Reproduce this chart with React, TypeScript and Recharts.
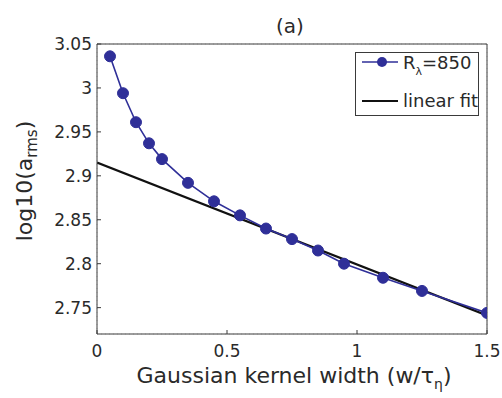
import React from 'react';
import { LineChart, Line, XAxis, YAxis, CartesianGrid, Legend, Label } from 'recharts';

// kernel widths and the measured log10(a_rms)
const widths = [0.05, 0.1, 0.15, 0.2, 0.25, 0.35, 0.45, 0.55, 0.65, 0.75, 0.85, 0.95, 1.1, 1.25, 1.5];
const logArms = [3.036, 2.994, 2.961, 2.937, 2.919, 2.892, 2.871, 2.855, 2.84, 2.828, 2.815, 2.8, 2.784, 2.769, 2.744];

// end points of the linear fit
const fitX = [0, 1.5];
const fitY = [2.915, 2.741];

const xTicks = [0, 0.5, 1, 1.5];
const yTicks = [2.75, 2.8, 2.85, 2.9, 2.95, 3, 3.05];

const seriesData = widths.map((x, i) => ({ x, y: logArms[i] }));
const fitData = fitX.map((x, i) => ({ x, y: fitY[i] }));

const BLUE = '#2f2f98';
const FRAME = '#3a3a3a';
const TEXT = '#2a2a2a';
const FONT = 'DejaVu Sans';

const renderLegend = () => (
  <svg width={124} height={64} style={{ display: 'block' }}>
    <rect x={0.5} y={0.5} width={123} height={63} fill="#fff" stroke={FRAME} strokeWidth={1} />
    <line x1={7} y1={10} x2={43} y2={10} stroke={BLUE} strokeWidth={1.5} />
    <circle cx={27} cy={10} r={5} fill={BLUE} />
    <text x={48} y={17} fontSize={18} fontFamily={FONT} fill={TEXT}>
      R
      <tspan fontSize={11} dy={6}>λ</tspan>
      <tspan dy={-6}>=850</tspan>
    </text>
    <line x1={7} y1={49} x2={43} y2={49} stroke="#111" strokeWidth={2} />
    <text x={48} y={55} fontSize={18} fontFamily={FONT} fill={TEXT}>linear fit</text>
  </svg>
);

export default function App() {
  return (
    <div style={{ position: 'absolute', left: 0, top: 0, width: 502, height: 398, background: '#fff' }}>
      <LineChart width={502} height={398} margin={{ top: 0, right: 0, bottom: 0, left: 0 }} style={{ fontFamily: FONT }}>
        <CartesianGrid stroke="#cfcfcf" strokeDasharray="1 3" />
        <XAxis
          xAxisId="bottom"
          dataKey="x"
          type="number"
          domain={[0, 1.5]}
          ticks={xTicks}
          interval={0}
          height={64}
          stroke={FRAME}
          tickSize={-4}
          tickMargin={15}
          tick={{ fontSize: 17, fill: TEXT, fontFamily: FONT }}
          allowDataOverflow
        >
          <Label
            content={() => (
              <text x={294} y={383} textAnchor="middle" fontSize={22} fontFamily={FONT} fill={TEXT}>
                Gaussian kernel width (w/τ
                <tspan fontSize={14} dy={6}>η</tspan>
                <tspan dy={-6}>)</tspan>
              </text>
            )}
          />
        </XAxis>
        <XAxis
          xAxisId="top"
          orientation="top"
          dataKey="x"
          type="number"
          domain={[0, 1.5]}
          ticks={xTicks}
          height={44}
          stroke={FRAME}
          tickSize={-4}
          tick={false}
          allowDataOverflow
        >
          <Label
            content={() => (
              <text x={290} y={33} textAnchor="middle" fontSize={20} fontFamily={FONT} fill={TEXT}>
                (a)
              </text>
            )}
          />
        </XAxis>
        <YAxis
          yAxisId="left"
          type="number"
          domain={[2.72, 3.05]}
          ticks={yTicks}
          interval={0}
          width={97}
          stroke={FRAME}
          tickSize={-4}
          tickMargin={9}
          tick={{ fontSize: 17, fill: TEXT, fontFamily: FONT }}
          allowDataOverflow
        >
          <Label
            content={() => (
              <text
                x={32}
                y={181}
                transform="rotate(-90 32 181)"
                textAnchor="middle"
                fontSize={22}
                fontFamily={FONT}
                fill={TEXT}
              >
                log10(a
                <tspan fontSize={15} dy={5}>rms</tspan>
                <tspan dy={-5}>)</tspan>
              </text>
            )}
          />
        </YAxis>
        <YAxis
          yAxisId="right"
          orientation="right"
          type="number"
          domain={[2.72, 3.05]}
          ticks={yTicks}
          width={15}
          stroke={FRAME}
          tickSize={-4}
          tick={false}
          allowDataOverflow
        />
        <Line
          xAxisId="bottom"
          yAxisId="left"
          data={fitData}
          dataKey="y"
          stroke="#111"
          strokeWidth={2.2}
          dot={false}
          isAnimationActive={false}
        />
        <Line
          xAxisId="bottom"
          yAxisId="left"
          data={seriesData}
          dataKey="y"
          stroke={BLUE}
          strokeWidth={1.6}
          dot={{ r: 5.5, fill: BLUE, stroke: BLUE, strokeWidth: 1 }}
          isAnimationActive={false}
        />
        <Legend
          layout="vertical"
          align="center"
          verticalAlign="middle"
          content={renderLegend}
          wrapperStyle={{ top: 52, left: 355, width: 124, height: 64 }}
        />
      </LineChart>
    </div>
  );
}
